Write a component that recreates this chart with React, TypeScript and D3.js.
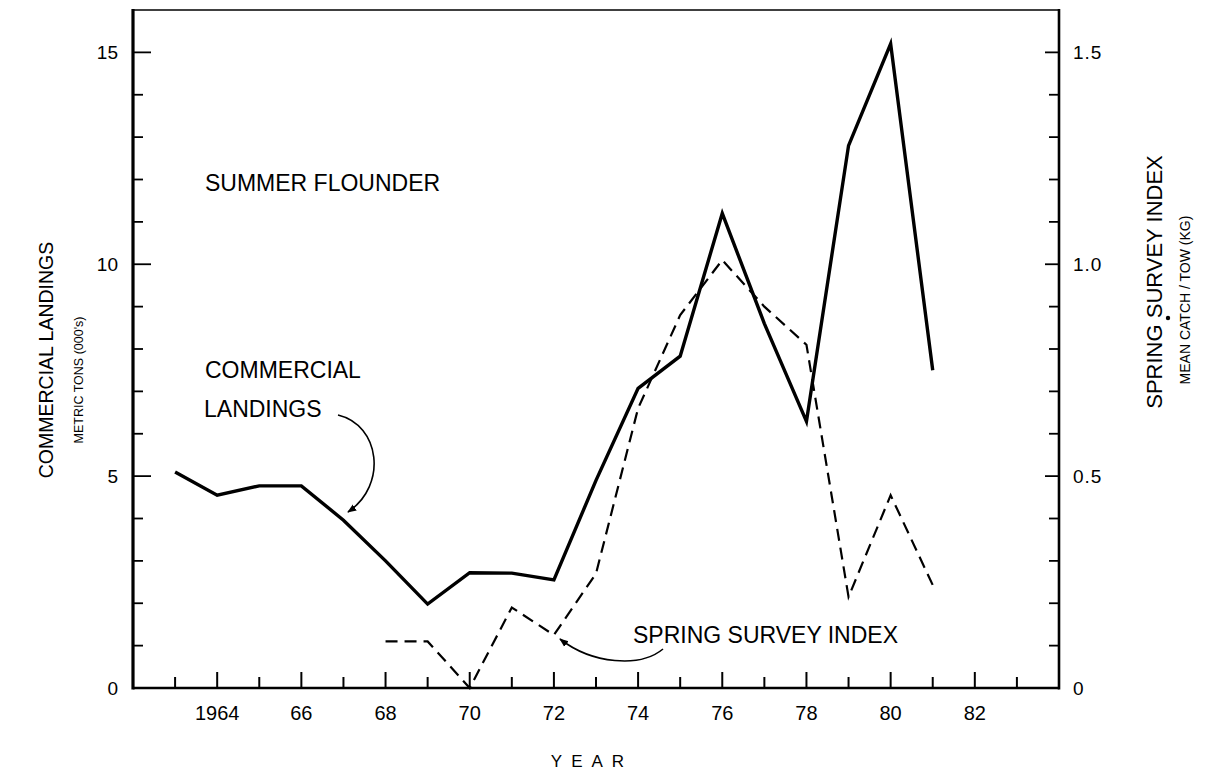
import React from "react";
import * as d3 from "d3";

const landingYears = [1963, 1964, 1965, 1966, 1967, 1968, 1969, 1970, 1971, 1972, 1973, 1974, 1975, 1976, 1977, 1978, 1979, 1980, 1981];
const landingValues = [5.1, 4.55, 4.77, 4.77, 3.96, 3.0, 1.98, 2.72, 2.71, 2.55, 4.9, 7.07, 7.83, 11.2, 8.6, 6.29, 12.8, 15.2, 7.5];

const surveyYears = [1968, 1969, 1970, 1971, 1972, 1973, 1974, 1975, 1976, 1977, 1978, 1979, 1980, 1981];
const surveyValues = [0.11, 0.11, 0.0, 0.19, 0.125, 0.27, 0.66, 0.88, 1.01, 0.9, 0.81, 0.215, 0.455, 0.243];

const xTickYears = d3.range(1963, 1984);
const xLabelYears = [1964, 1966, 1968, 1970, 1972, 1974, 1976, 1978, 1980, 1982];
const xLabelText = ["1964", "66", "68", "70", "72", "74", "76", "78", "80", "82"];
const leftTicks = d3.range(1, 16);
const leftLabels = [0, 5, 10, 15];
const rightTicks = d3.range(1, 16).map((d) => d / 10);
const rightLabels = [0, 0.5, 1.0, 1.5];

const W = 1206, H = 777;
const L = 133, R = 1059, T = 10, B = 688;
const FONT = "'Liberation Sans', Arial, Helvetica, sans-serif";

export default function App() {
  const x = d3.scaleLinear().domain([1962, 1984]).range([L, R]);
  const yL = d3.scaleLinear().domain([0, 16]).range([B, T]);
  const yR = d3.scaleLinear().domain([0, 1.6]).range([B, T]);

  const landLine = d3.line<number>().x((_, i) => x(landingYears[i])).y((d) => yL(d))(landingValues) || "";
  const survLine = d3.line<number>().x((_, i) => x(surveyYears[i])).y((d) => yR(d))(surveyValues) || "";

  return (
    <svg width={W} height={H} style={{ position: "absolute", left: 0, top: 0, background: "#fff" }} fontFamily={FONT}>
      <defs>
        <marker id="ah" viewBox="0 0 10 10" refX="9" refY="5" markerWidth="9" markerHeight="9" orient="auto-start-reverse" markerUnits="userSpaceOnUse">
          <path d="M0,1 L10,5 L0,9 Z" fill="#000" />
        </marker>
      </defs>
      <rect x={0} y={0} width={W} height={H} fill="#fff" />
      {/* frame */}
      <line x1={L} x2={R} y1={T} y2={T} stroke="#000" strokeWidth={1.6} />
      <line x1={L} x2={L} y1={T - 1} y2={B + 1.5} stroke="#000" strokeWidth={3.2} />
      <line x1={R} x2={R} y1={T - 1} y2={B + 1.5} stroke="#000" strokeWidth={2.6} />
      <line x1={L} x2={R} y1={B} y2={B} stroke="#000" strokeWidth={2.6} />

      {/* bottom ticks */}
      {xTickYears.map((yr) => (
        <line key={"xt" + yr} x1={x(yr)} x2={x(yr)} y1={B} y2={B - (yr % 2 === 0 ? 16 : 11)} stroke="#000" strokeWidth={2} />
      ))}
      {xLabelYears.map((yr, i) => (
        <text key={"xl" + yr} x={x(yr)} y={720} textAnchor="middle" fontSize={20}>{xLabelText[i]}</text>
      ))}

      {/* left ticks */}
      {leftTicks.map((v) => (
        <line key={"lt" + v} x1={L} x2={L + (v % 5 === 0 ? 18 : 10)} y1={yL(v)} y2={yL(v)} stroke="#000" strokeWidth={1.8} />
      ))}
      {leftLabels.map((v) => (
        <text key={"ll" + v} x={118} y={yL(v) + 7} textAnchor="end" fontSize={19}>{String(v)}</text>
      ))}

      {/* right ticks */}
      {rightTicks.map((v, i) => (
        <line key={"rt" + i} x1={R} x2={R - ((i + 1) % 5 === 0 ? 14 : 10)} y1={yR(v)} y2={yR(v)} stroke="#000" strokeWidth={1.8} />
      ))}
      {rightLabels.map((v) => (
        <text key={"rl" + v} x={1073} y={yR(v) + 7} textAnchor="start" fontSize={19} letterSpacing={1}>{v === 0 ? "0" : v.toFixed(1)}</text>
      ))}

      {/* data */}
      <path d={landLine} fill="none" stroke="#000" strokeWidth={3.4} strokeLinejoin="miter" />
      <path d={survLine} fill="none" stroke="#000" strokeWidth={2.2} strokeDasharray="12 7" />

      {/* annotations */}
      <text x={205} y={191} fontSize={23}>SUMMER FLOUNDER</text>
      <text x={205} y={378} fontSize={23}>COMMERCIAL</text>
      <text x={204} y={417} fontSize={23}>LANDINGS</text>
      <path d="M338,415 C380,425 388,485 348,512" fill="none" stroke="#000" strokeWidth={1.6} markerEnd="url(#ah)" />
      <text x={633} y={643} fontSize={23}>SPRING SURVEY INDEX</text>
      <path d="M663,649 C640,668 592,664 560,639" fill="none" stroke="#000" strokeWidth={1.6} markerEnd="url(#ah)" />

      {/* axis titles */}
      <text transform="translate(53,360) rotate(-90)" textAnchor="middle" fontSize={19.5}>COMMERCIAL LANDINGS</text>
      <text transform="translate(83,380) rotate(-90)" textAnchor="middle" fontSize={12.5}>METRIC TONS (000's)</text>
      <text transform="translate(1162,282) rotate(-90)" textAnchor="middle" fontSize={22}>SPRING SURVEY INDEX</text>
      <circle cx={1168} cy={318} r={2.2} fill="#000" />
      <text transform="translate(1190,300) rotate(-90)" textAnchor="middle" fontSize={14}>MEAN CATCH / TOW (KG)</text>

      <text x={592} y={767} textAnchor="middle" fontSize={17} letterSpacing={9}>YEAR</text>
    </svg>
  );
}
